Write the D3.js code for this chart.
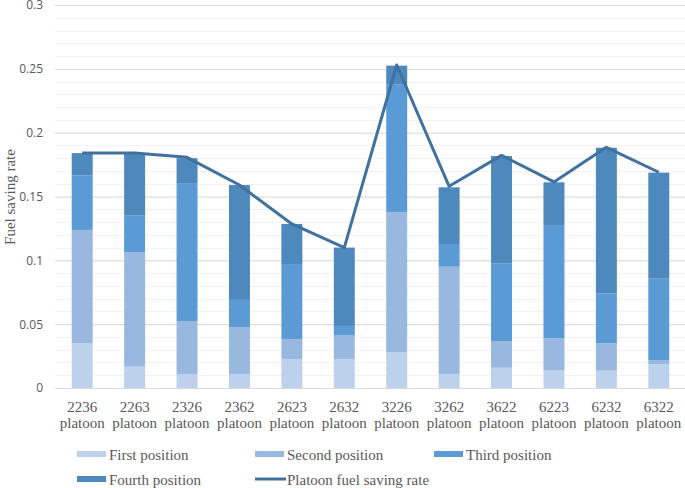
<!DOCTYPE html>
<html>
<head>
<meta charset="utf-8">
<script src="https://cdn.jsdelivr.net/npm/d3@7"></script>
<style>
  body { margin: 0; background: #fff; }
  svg text { fill: #595959; }
</style>
</head>
<body>
<div id="chart"></div>
<script>
(function () {

	// values
	var platoons = ['2236', '2263', '2326', '2362', '2623', '2632', '3226', '3262', '3622', '6223', '6232', '6322'];
	var firstPos  = [0.035, 0.0167, 0.011, 0.011, 0.0227, 0.0225, 0.028, 0.011, 0.0159, 0.0141, 0.0136, 0.0186];
	var secondPos = [0.0888, 0.0896, 0.0415, 0.0365, 0.0157, 0.019, 0.1099, 0.084, 0.0209, 0.0248, 0.0214, 0.0033];
	var thirdPos  = [0.0426, 0.0287, 0.1075, 0.0215, 0.0587, 0.0071, 0.1001, 0.0178, 0.0609, 0.0888, 0.0392, 0.0637];
	var fourthPos = [0.0176, 0.0483, 0.020, 0.090, 0.0314, 0.0614, 0.0145, 0.0444, 0.084, 0.0334, 0.114, 0.0831];
	var platoonRate = [0.184, 0.184, 0.1807, 0.159, 0.1285, 0.110, 0.2530, 0.158, 0.1822, 0.1614, 0.1885, 0.169];
	var yTicks = [0, 0.05, 0.1, 0.15, 0.2, 0.25, 0.3];
	var yMinor = d3.range(0, 0.3001, 0.01);

	var keys = ['first', 'second', 'third', 'fourth'];
	var names = ['First position', 'Second position', 'Third position', 'Fourth position'];
	var colors = ['#bdd1ec', '#98b8df', '#5b9bd5', '#4e89bd'];
	var lineColor = '#41729f';

	var rows = platoons.map(function (p, i) {
		return { name: p, first: firstPos[i], second: secondPos[i], third: thirdPos[i], fourth: fourthPos[i] };
	});

	var width = 685, height = 488;
	var svg = d3.select('#chart').append('svg')
		.attr('width', width).attr('height', height);

	var x = d3.scaleBand().domain(platoons).range([56, 685]).paddingInner(0.6).paddingOuter(0.3);
	var y = d3.scaleLinear().domain([0, 0.3]).range([388, 5]);

	// minor grid
	svg.append('g')
		.selectAll('line').data(yMinor).enter()
		.append('line')
		.attr('x1', 55).attr('x2', 685)
		.attr('y1', function (d) { return Math.round(y(d)) + 0.5; })
		.attr('y2', function (d) { return Math.round(y(d)) + 0.5; })
		.attr('stroke', '#f2f2f2');

	// major grid + labels
	var yAxis = svg.append('g')
		.attr('transform', 'translate(55,0)')
		.call(d3.axisLeft(y).tickValues(yTicks).tickSize(-630).tickPadding(12)
			.tickFormat(function (d) { return d === 0 ? '0' : String(+d.toFixed(2)); }));
	yAxis.select('.domain').remove();
	yAxis.selectAll('line').attr('stroke', '#d9d9d9');
	yAxis.selectAll('text')
		.attr('font-family', '"Open Sans", sans-serif')
		.attr('font-size', '12px')
		.style('fill', '#595959');

	// stacked bars
	var series = d3.stack().keys(keys)(rows);
	svg.append('g')
		.selectAll('g').data(series).enter()
		.append('g')
		.attr('fill', function (d, i) { return colors[i]; })
		.selectAll('rect').data(function (d) { return d; }).enter()
		.append('rect')
		.attr('x', function (d) { return x(d.data.name); })
		.attr('width', x.bandwidth())
		.attr('y', function (d) { return y(d[1]); })
		.attr('height', function (d) { return y(d[0]) - y(d[1]); });

	// bottom axis line
	svg.append('line')
		.attr('x1', 55).attr('x2', 685)
		.attr('y1', 388.5).attr('y2', 388.5)
		.attr('stroke', '#d9d9d9');

	// platoon line
	var line = d3.line()
		.x(function (d, i) { return x(platoons[i]) + x.bandwidth() / 2; })
		.y(function (d) { return y(d); });
	svg.append('path')
		.datum(platoonRate)
		.attr('d', line)
		.attr('fill', 'none')
		.attr('stroke', lineColor)
		.attr('stroke-width', 3)
		.attr('stroke-linejoin', 'round');

	// x labels
	var xl = svg.append('g').selectAll('text').data(platoons).enter()
		.append('text')
		.attr('text-anchor', 'middle')
		.attr('font-family', '"Liberation Serif", "Times New Roman", serif')
		.attr('font-size', '15px')
		.attr('transform', function (d) { return 'translate(' + (x(d) + x.bandwidth() / 2) + ',0)'; });
	xl.append('tspan').attr('x', 0).attr('y', 412).text(function (d) { return d; });
	xl.append('tspan').attr('x', 0).attr('y', 428).text('platoon');

	// y title
	svg.append('text')
		.attr('transform', 'translate(15,197) rotate(-90)')
		.attr('text-anchor', 'middle')
		.attr('font-family', '"Liberation Serif", "Times New Roman", serif')
		.attr('font-size', '15px')
		.text('Fuel saving rate');

	// legend
	var legend = [
		{ name: names[0], color: colors[0], x: 77, y: 454, type: 'rect' },
		{ name: names[1], color: colors[1], x: 255, y: 454, type: 'rect' },
		{ name: names[2], color: colors[2], x: 434, y: 454, type: 'rect' },
		{ name: names[3], color: colors[3], x: 77, y: 479, type: 'rect' },
		{ name: 'Platoon fuel saving rate', color: lineColor, x: 255, y: 479, type: 'line' }
	];
	var lg = svg.append('g').selectAll('g').data(legend).enter()
		.append('g')
		.attr('transform', function (d) { return 'translate(' + d.x + ',' + d.y + ')'; });
	lg.filter(function (d) { return d.type === 'rect'; })
		.append('rect')
		.attr('x', 0).attr('y', -3).attr('width', 29).attr('height', 6)
		.attr('fill', function (d) { return d.color; });
	lg.filter(function (d) { return d.type === 'line'; })
		.append('line')
		.attr('x1', 0).attr('x2', 31).attr('y1', 0).attr('y2', 0)
		.attr('stroke', function (d) { return d.color; })
		.attr('stroke-width', 3);
	lg.append('text')
		.attr('x', 32)
		.attr('y', 6)
		.attr('font-family', '"Liberation Serif", "Times New Roman", serif')
		.attr('font-size', '15px')
		.text(function (d) { return d.name; });

})();
</script>
</body>
</html>
